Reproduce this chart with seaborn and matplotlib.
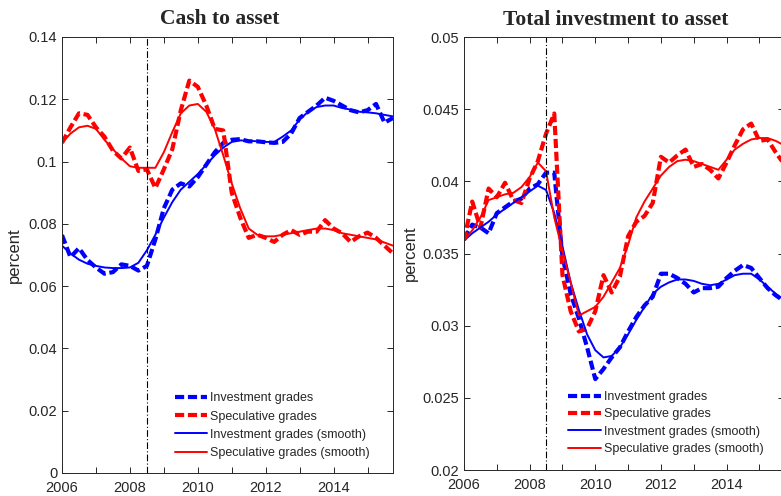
import numpy as np
import pandas as pd
import matplotlib
matplotlib.use("Agg")
import matplotlib.pyplot as plt
import seaborn as sns

# quarterly dates 2006Q1 .. 2015Q4
quarters = np.arange(40) * 0.25 + 2006.0

# Cash to asset
cash_inv = [0.0764, 0.0693, 0.0722, 0.0684, 0.0660, 0.0640, 0.0645, 0.0670,
            0.0665, 0.0650, 0.0665, 0.0750, 0.0850, 0.0910, 0.0930, 0.0920,
            0.0950, 0.0990, 0.1030, 0.1060, 0.1070, 0.1072, 0.1065, 0.1065,
            0.1062, 0.1060, 0.1063, 0.1090, 0.1140, 0.1160, 0.1180, 0.1205,
            0.1195, 0.1180, 0.1165, 0.1158, 0.1165, 0.1185, 0.1125, 0.1140]
cash_spec = [0.1060, 0.1110, 0.1155, 0.1150, 0.1110, 0.1080, 0.1035, 0.1010,
             0.1045, 0.0970, 0.0975, 0.0915, 0.0975, 0.1040, 0.1165, 0.1260,
             0.1240, 0.1180, 0.1105, 0.1100, 0.0900, 0.0820, 0.0755, 0.0765,
             0.0755, 0.0742, 0.0765, 0.0780, 0.0765, 0.0775, 0.0775, 0.0812,
             0.0785, 0.0770, 0.0742, 0.0760, 0.0772, 0.0755, 0.0730, 0.0705]
cash_inv_s = [0.0730, 0.0705, 0.0685, 0.0672, 0.0665, 0.0660, 0.0658, 0.0658,
              0.0660, 0.0675, 0.0715, 0.0765, 0.0820, 0.0870, 0.0910, 0.0935,
              0.0960, 0.0990, 0.1020, 0.1045, 0.1063, 0.1068, 0.1067, 0.1065,
              0.1063, 0.1063, 0.1080, 0.1100, 0.1135, 0.1160, 0.1175, 0.1180,
              0.1180, 0.1172, 0.1167, 0.1160, 0.1158, 0.1155, 0.1150, 0.1145]
cash_spec_s = [0.1060, 0.1090, 0.1110, 0.1115, 0.1105, 0.1070, 0.1040, 0.1010,
               0.0985, 0.0980, 0.0980, 0.0980, 0.1030, 0.1095, 0.1155, 0.1180,
               0.1185, 0.1160, 0.1105, 0.1020, 0.0930, 0.0850, 0.0785, 0.0765,
               0.0760, 0.0760, 0.0765, 0.0770, 0.0775, 0.0780, 0.0785, 0.0785,
               0.0780, 0.0770, 0.0765, 0.0760, 0.0755, 0.0750, 0.0740, 0.0730]

# Total investment to asset
tinv_inv = [0.0360, 0.0370, 0.0368, 0.0364, 0.0378, 0.0382, 0.0386, 0.0388,
            0.0395, 0.0398, 0.0406, 0.0406, 0.0348, 0.0322, 0.0305, 0.0285,
            0.0263, 0.0270, 0.0278, 0.0285, 0.0296, 0.0306, 0.0314, 0.0320,
            0.0336, 0.0336, 0.0333, 0.0329, 0.0323, 0.0326, 0.0326, 0.0327,
            0.0333, 0.0338, 0.0342, 0.0340, 0.0333, 0.0326, 0.0321, 0.0317]
tinv_spec = [0.0359, 0.0386, 0.0368, 0.0395, 0.0389, 0.0399, 0.0387, 0.0385,
             0.0402, 0.0414, 0.0433, 0.0447, 0.0335, 0.0310, 0.0296, 0.0298,
             0.0310, 0.0335, 0.0323, 0.0334, 0.0362, 0.0372, 0.0376, 0.0385,
             0.0417, 0.0413, 0.0418, 0.0422, 0.0410, 0.0412, 0.0408, 0.0402,
             0.0413, 0.0425, 0.0436, 0.0440, 0.0428, 0.0429, 0.0420, 0.0412]
tinv_inv_s = [0.0359, 0.0364, 0.0368, 0.0372, 0.0377, 0.0381, 0.0385, 0.0389,
              0.0393, 0.0397, 0.0394, 0.0378, 0.0355, 0.0330, 0.0311, 0.0294,
              0.0283, 0.0278, 0.0279, 0.0285, 0.0294, 0.0304, 0.0313, 0.0322,
              0.0327, 0.0330, 0.0332, 0.0332, 0.0331, 0.0329, 0.0328, 0.0329,
              0.0332, 0.0335, 0.0336, 0.0336, 0.0332, 0.0327, 0.0322, 0.0318]
tinv_spec_s = [0.0359, 0.0366, 0.0375, 0.0387, 0.0389, 0.0391, 0.0392, 0.0396,
               0.0403, 0.0413, 0.0407, 0.0375, 0.0352, 0.0330, 0.0307, 0.0310,
               0.0313, 0.0320, 0.0330, 0.0340, 0.0356, 0.0375, 0.0386, 0.0395,
               0.0404, 0.0410, 0.0414, 0.0415, 0.0414, 0.0412, 0.0410, 0.0408,
               0.0415, 0.0422, 0.0426, 0.0429, 0.0430, 0.0430, 0.0428, 0.0425]

labels = ["Investment grades", "Speculative grades",
          "Investment grades (smooth)", "Speculative grades (smooth)"]
crisis = 2008.5

sns.set_style("white")
plt.rcParams["font.family"] = ["Liberation Sans", "DejaVu Sans"]
plt.rcParams["xtick.direction"] = "in"
plt.rcParams["ytick.direction"] = "in"

gray = "#262626"
dash = (0, (2.2, 0.9))

fig = plt.figure(figsize=(7.81, 4.96), dpi=100)
ax1 = fig.add_axes([62 / 781, 23 / 496, 331 / 781, 436 / 496])
ax2 = fig.add_axes([464 / 781, 26 / 496, 320 / 781, 433 / 496])


def draw_panel(ax, inv, spec, inv_s, spec_s, title, yticks, ylim):
    df = pd.DataFrame({"t": quarters, "inv": inv, "spec": spec,
                       "inv_s": inv_s, "spec_s": spec_s})
    sns.lineplot(data=df, x="t", y="inv", ax=ax, color="blue", lw=3.0,
                 linestyle=dash, label=labels[0], legend=False, estimator=None)
    sns.lineplot(data=df, x="t", y="spec", ax=ax, color="red", lw=3.0,
                 linestyle=dash, label=labels[1], legend=False, estimator=None)
    sns.lineplot(data=df, x="t", y="inv_s", ax=ax, color="blue", lw=1.4,
                 label=labels[2], legend=False, estimator=None)
    sns.lineplot(data=df, x="t", y="spec_s", ax=ax, color="red", lw=1.4,
                 label=labels[3], legend=False, estimator=None)
    ax.axvline(crisis, color="black", lw=0.8, linestyle=(0, (6, 2, 1, 2)))

    ax.set_xlim(2006, 2015.75)
    ax.set_ylim(*ylim)
    years = np.arange(2006, 2016)
    ax.set_xticks(years)
    ax.set_xticklabels([str(y) if y % 2 == 0 else "" for y in years])
    ax.set_yticks(yticks)
    ax.set_yticklabels([f"{v:g}" for v in yticks])
    ax.tick_params(axis="both", which="both", length=4, width=0.7,
                   colors=gray, labelsize=10.5, top=True, right=True,
                   bottom=True, left=True)
    ax.tick_params(axis="x", pad=6)
    for s in ax.spines.values():
        s.set_color(gray)
        s.set_linewidth(0.7)
    ax.set_xlabel("")
    ax.set_ylabel("percent", fontsize=12, color=gray)
    ax.set_title(title, family=["Liberation Serif", "DejaVu Serif"],
                 fontweight="bold", fontsize=15.5, x=0.475, pad=9)


draw_panel(ax1, cash_inv, cash_spec, cash_inv_s, cash_spec_s,
           "Cash to asset", np.round(np.arange(0, 0.1401, 0.02), 3), (0, 0.14))
draw_panel(ax2, tinv_inv, tinv_spec, tinv_inv_s, tinv_spec_s,
           "Total investment to asset", np.round(np.arange(0.02, 0.0501, 0.005), 4),
           (0.02, 0.05))

ax1.yaxis.set_label_coords(-0.121, 0.5)
ax2.yaxis.set_label_coords(-0.144, 0.5)

ax1.legend(loc="upper left", bbox_to_anchor=(0.341, 0.185), frameon=False,
           fontsize=9, handlelength=2.6, handletextpad=0.25, labelspacing=0.5,
           borderpad=0, borderaxespad=0)
ax2.legend(loc="upper left", bbox_to_anchor=(0.325, 0.182), frameon=False,
           fontsize=9, handlelength=2.6, handletextpad=0.25, labelspacing=0.42,
           borderpad=0, borderaxespad=0)

fig.savefig("out.png", dpi=100)
